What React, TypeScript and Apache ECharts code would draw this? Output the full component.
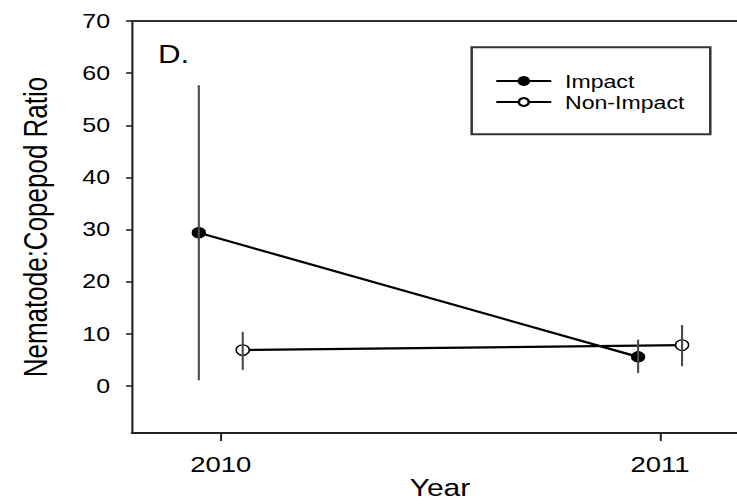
import React, { useEffect, useRef } from "react";
import * as echarts from "echarts";

// ---- data ----
const years = [2010, 2011];
const impactMean = [29.4, 5.6];
const impactLow = [1.1, 2.5];
const impactHigh = [57.7, 8.9];
const nonImpactMean = [6.9, 7.85];
const nonImpactLow = [3.1, 3.8];
const nonImpactHigh = [10.4, 11.7];
const yTickValues = [0, 10, 20, 30, 40, 50, 60, 70];
const seriesNames = ["Impact", "Non-Impact"];

// horizontal dodge of the two groups (in years)
const DODGE = 0.05;

const VIEW_W = 737;
const H = 504;
const SX = 737 / 590;
const W = 604; // drawing width before the horizontal stretch (extra part is clipped)
const FONT = "'Liberation Sans', Arial, Helvetica, sans-serif";

export default function App() {
  const ref = useRef<HTMLDivElement | null>(null);

  useEffect(() => {
    if (!ref.current) return;
    const chart = echarts.init(ref.current, null, { renderer: "svg" });

    const impactPts = years.map((y, i) => [y - DODGE, impactMean[i]]);
    const nonPts = years.map((y, i) => [y + DODGE, nonImpactMean[i]]);
    const impactErr = years.map((y, i) => [y - DODGE, impactLow[i], impactHigh[i]]);
    const nonErr = years.map((y, i) => [y + DODGE, nonImpactLow[i], nonImpactHigh[i]]);

    const errRender = (params: any, api: any) => {
      const x = api.value(0);
      const lo = api.coord([x, api.value(1)]);
      const hi = api.coord([x, api.value(2)]);
      return {
        type: "line",
        shape: { x1: lo[0], y1: lo[1], x2: hi[0], y2: hi[1] },
        style: { stroke: "#4a4a4a", lineWidth: 1.7 },
      };
    };

    const xMin = 2009.798;
    const xMax = 2011.2;

    chart.setOption({
      animation: false,
      backgroundColor: "#fff",
      textStyle: { fontFamily: FONT },
      grid: {
        left: 105.7,
        right: W - 105.7 - (xMax - xMin) * 351.68,
        top: 21,
        bottom: 71,
        show: false,
        outerBoundsMode: "none",
        containLabel: false,
      },
      legend: {
        data: seriesNames,
        orient: "vertical",
        left: 377.6,
        top: 47.3,
        itemWidth: 44,
        itemHeight: 10,
        itemGap: 0,
        padding: [23.2, 20.7, 21.8, 18.7],
        backgroundColor: "#fff",
        borderColor: "#333",
        borderWidth: 2,
        borderRadius: 0,
        textStyle: {
          fontFamily: FONT,
          fontSize: 18.5,
          color: "#000",
          lineHeight: 21,
          padding: [0, 0, 0, 6],
        },
      },
      xAxis: [
        {
          type: "value",
          position: "bottom",
          min: xMin,
          max: xMax,
          name: "Year",
          nameLocation: "middle",
          nameGap: 43,
          nameMoveOverlap: false,
          nameTextStyle: {
            fontFamily: FONT,
            fontSize: 24,
            color: "#000",
          },
          axisLine: { show: true, onZero: false, lineStyle: { color: "#222", width: 2.2 } },
          axisTick: {
            show: true,
            customValues: years,
            length: 8,
            lineStyle: { color: "#222", width: 1.6 },
          },
          axisLabel: {
            customValues: years,
            margin: 20,
            fontFamily: FONT,
            fontSize: 22,
            color: "#000",
            formatter: (v: number) => String(v),
          },
          splitLine: { show: false },
          splitArea: { show: false },
        },
        {
          type: "value",
          position: "top",
          min: xMin,
          max: xMax,
          axisLine: { show: true, onZero: false, lineStyle: { color: "#333", width: 2 } },
          axisTick: { show: false },
          axisLabel: { show: false },
          splitLine: { show: false },
          splitArea: { show: false },
        },
      ],
      yAxis: {
        type: "value",
        min: -9,
        max: 70,
        name: "Nematode:Copepod Ratio",
        nameLocation: "middle",
        nameGap: 64.5,
        nameTextStyle: { fontFamily: FONT, fontSize: 26, color: "#000" },
        axisLine: { show: true, onZero: false, lineStyle: { color: "#222", width: 1.7 } },
        axisTick: {
          show: true,
          customValues: yTickValues,
          length: 4.8,
          lineStyle: { color: "#222", width: 1.6 },
        },
        axisLabel: {
          customValues: yTickValues,
          margin: 17.6,
          fontFamily: FONT,
          fontSize: 20,
          color: "#000",
        },
        splitLine: { show: false },
        splitArea: { show: false },
      },
      series: [
        {
          name: seriesNames[0],
          type: "line",
          xAxisIndex: 0,
          data: impactPts,
          symbol: "circle",
          symbolSize: 10.5,
          itemStyle: { color: "#000", borderColor: "#000", borderWidth: 1 },
          lineStyle: { color: "#000", width: 2.2 },
          z: 2,
        },
        {
          name: seriesNames[1],
          type: "line",
          xAxisIndex: 0,
          data: nonPts,
          symbol: "circle",
          symbolSize: 10.5,
          itemStyle: { color: "#fff", borderColor: "#000", borderWidth: 1.2 },
          lineStyle: { color: "#000", width: 2.2 },
          z: 2,
        },
        {
          name: "Impact error",
          type: "custom",
          xAxisIndex: 0,
          data: impactErr,
          renderItem: errRender,
          encode: { x: 0, y: [1, 2] },
          z: 3,
        },
        {
          name: "Non-Impact error",
          type: "custom",
          xAxisIndex: 0,
          data: nonErr,
          renderItem: errRender,
          encode: { x: 0, y: [1, 2] },
          z: 3,
        },
      ],
      graphic: [
        {
          type: "text",
          left: 126.5,
          top: 42,
          style: {
            text: "D.",
            fontFamily: FONT,
            fontSize: 25,
            fill: "#000",
          },
        },
        {
          type: "rect",
          z: 100,
          shape: { x: 585, y: 23.5, width: 12, height: 407 },
          style: { fill: "#fff" },
          silent: true,
        },
      ],
    });

    return () => {
      chart.dispose();
    };
  }, []);

  return (
    <div
      style={{
        position: "fixed",
        left: 0,
        top: 0,
        width: VIEW_W,
        height: H,
        overflow: "hidden",
        background: "#fff",
      }}
    >
      <div
        ref={ref}
        style={{
          width: W,
          height: H,
          transform: `scaleX(${SX})`,
          transformOrigin: "0 0",
          background: "#fff",
        }}
      />
    </div>
  );
}
